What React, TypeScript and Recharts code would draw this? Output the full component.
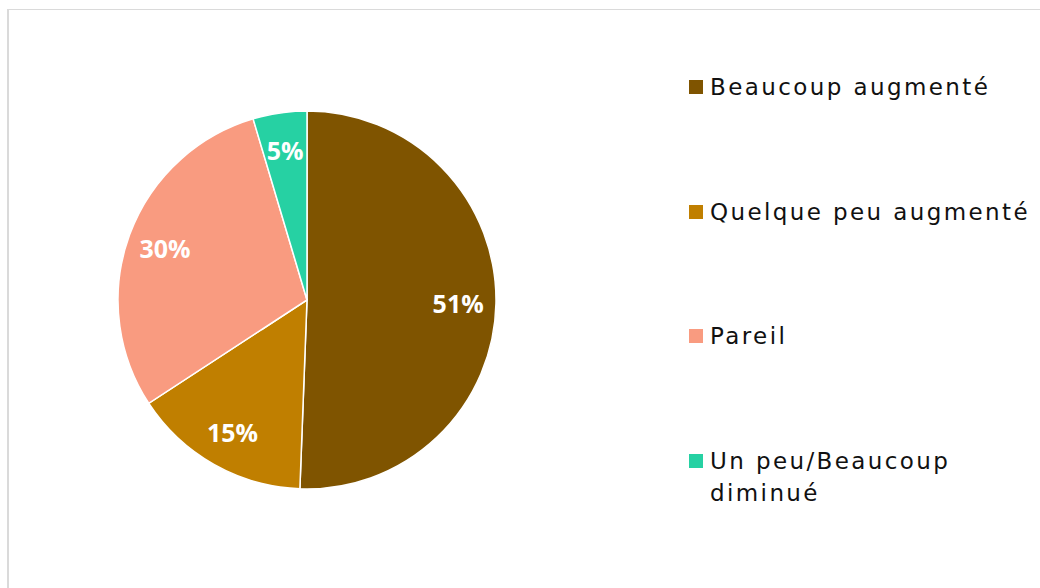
import React from 'react';
import { PieChart, Pie, Cell, Legend } from 'recharts';

const categories = ['Beaucoup augmenté', 'Quelque peu augmenté', 'Pareil', 'Un peu/Beaucoup diminué'];
const values = [50.6, 15.2, 29.6, 4.6];
const colors = ['#7F5400', '#C07F00', '#F99B80', '#26D1A3'];

const data = categories.map((name, i) => ({ name, value: values[i] }));
const total = values.reduce((a, b) => a + b, 0);

const RAD = Math.PI / 180;

const renderLabel = (props: any) => {
  const { cx, cy, midAngle, outerRadius, value } = props;
  const r = outerRadius * 0.8;
  const x = cx + r * Math.cos(-midAngle * RAD);
  const y = cy + r * Math.sin(-midAngle * RAD);
  return (
    <text
      x={x}
      y={y}
      fill="#ffffff"
      textAnchor="middle"
      dominantBaseline="central"
      style={{ fontFamily: '"Open Sans", sans-serif', fontWeight: 700, fontSize: 25 }}
    >
      {Math.round((value / total) * 100) + '%'}
    </text>
  );
};

const renderLegend = () => {
  return (
    <div style={{ position: 'relative', width: 345 }}>
      {categories.map((name, i) => (
        <div
          key={name}
          style={{
            position: 'absolute',
            left: 0,
            top: i * 124.7,
            display: 'flex',
            alignItems: 'flex-start',
          }}
        >
          <div style={{ width: 14, height: 14, marginTop: 9, background: colors[i], flex: 'none' }} />
          <div
            style={{
              marginLeft: 7,
              width: 322,
              fontFamily: '"DejaVu Sans", sans-serif',
              fontSize: 23,
              letterSpacing: 2.4,
              lineHeight: '32px',
              color: '#111',
            }}
          >
            {name}
          </div>
        </div>
      ))}
    </div>
  );
};

export default function App() {
  return (
    <div style={{ position: 'fixed', left: 7, top: 9, width: 1033, height: 579, overflow: 'hidden', background: '#fff' }}>
      <div
        style={{
          position: 'absolute',
          left: 0,
          top: 0,
          width: 1200,
          height: 800,
          borderLeft: '2px solid #dadada',
          borderTop: '1px solid #dadada',
        }}
      />
      <div style={{ position: 'absolute', left: 0, top: 0 }}>
        <PieChart width={1033} height={579} margin={{ top: 0, right: 0, bottom: 0, left: 0 }}>
          <Pie
            data={data}
            dataKey="value"
            nameKey="name"
            cx={300}
            cy={291}
            outerRadius={189}
            startAngle={90}
            endAngle={-270}
            stroke="#ffffff"
            strokeWidth={1.5}
            label={renderLabel}
            labelLine={false}
            isAnimationActive={false}
          >
            {data.map((d, i) => (
              <Cell key={d.name} fill={colors[i]} />
            ))}
          </Pie>
          <Legend
            layout="vertical"
            align="right"
            verticalAlign="top"
            content={renderLegend}
            wrapperStyle={{ left: 682, top: 62, width: 345, height: 500 }}
          />
        </PieChart>
      </div>
    </div>
  );
}
